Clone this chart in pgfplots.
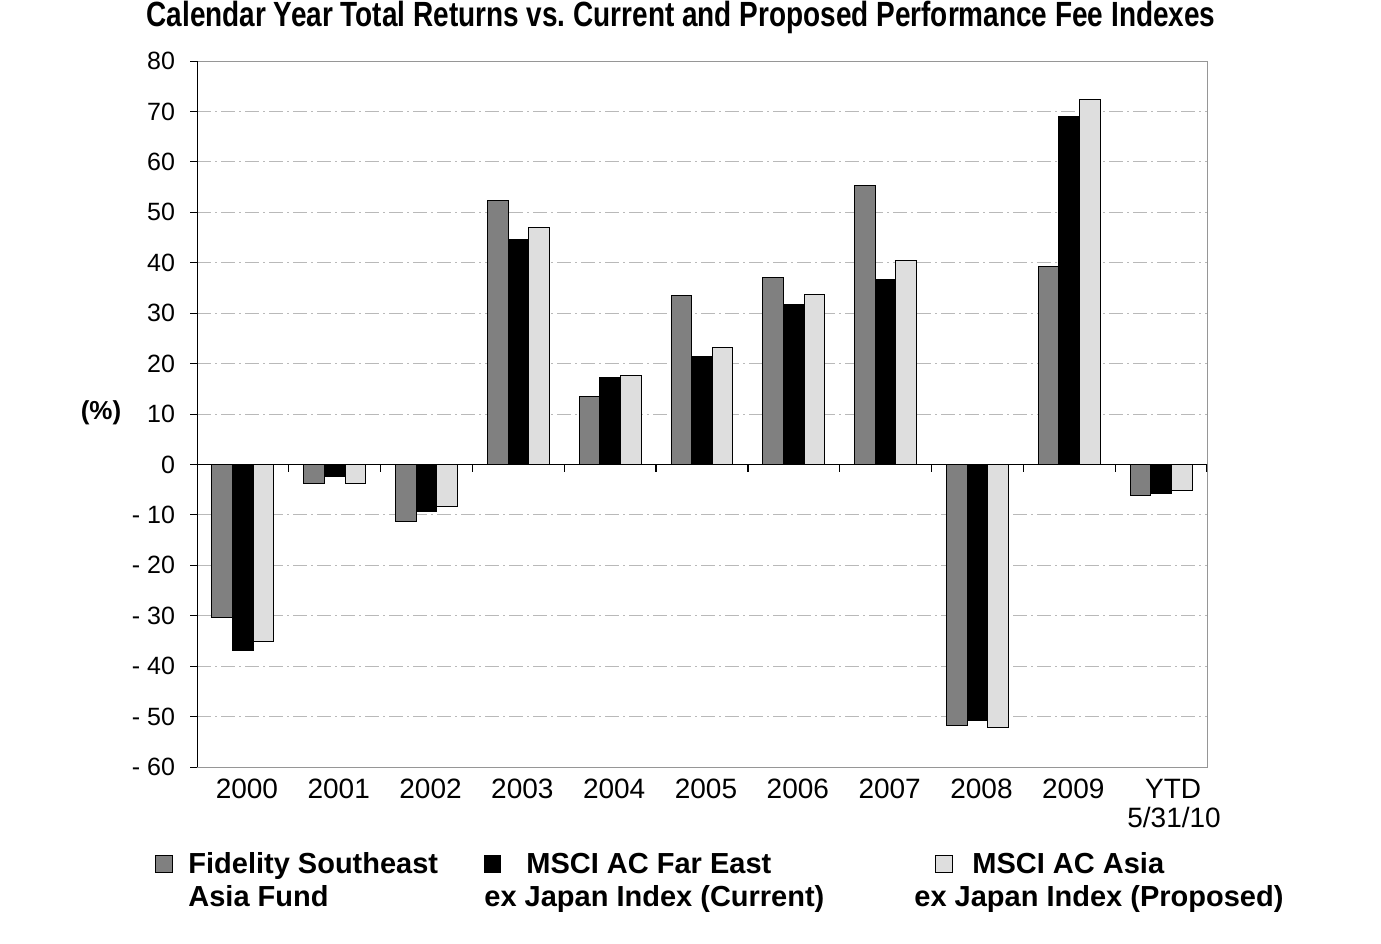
\documentclass[border=0pt]{standalone}
\usepackage{fontspec}
\setmainfont{Liberation Sans}
\usepackage{graphicx}
\usepackage{pgfplots}
\pgfplotsset{compat=1.18}
\definecolor{fsa}{RGB}{128,128,128}
\definecolor{fe}{RGB}{0,0,0}
\definecolor{asia}{RGB}{222,222,222}
\definecolor{gridc}{RGB}{185,185,185}
\definecolor{framec}{RGB}{150,150,150}
\begin{document}
\begin{tikzpicture}[x=1pt,y=1pt]
\useasboundingbox (0,0) rectangle (690.5,471.5);
\begin{axis}[
  at={(98.5pt,88pt)}, anchor=south west,
  width=505pt, height=353pt, scale only axis,
  xmin=-0.5, xmax=10.5, ymin=-60, ymax=80,
  ybar=0pt, bar width=0.225,
  xtick={0,1,2,3,4,5,6,7,8,9,10},
  xticklabels={2000,2001,2002,2003,2004,2005,2006,2007,2008,2009,{\hspace*{8pt}YTD\\\hspace*{9pt}5/31/10}},
  xticklabel style={font=\fontsize{14}{14.5}\selectfont, align=center, anchor=north, xshift=2pt, yshift=1pt},
  major x tick style={draw=none},
  ytick={-60,-50,-40,-30,-20,-10,0,10,20,30,40,50,60,70,80},
  yticklabels={- 60,- 50,- 40,- 30,- 20,- 10,0,10,20,30,40,50,60,70,80},
  yticklabel style={font=\fontsize{12.5}{13}\selectfont, anchor=east, xshift=-4pt},
  ytick pos=left, tick align=outside, major tick length=3.5pt,
  major tick style={black, line width=0.5pt},
  axis line style={draw=framec, line width=0.5pt},
  ymajorgrids, grid style={gridc, line width=0.5pt, dash pattern=on 7pt off 2pt on 1pt off 2pt},
  every axis plot/.append style={draw=black, line width=0.5pt},
]
\addplot[fill=fsa] coordinates {(0,-30.4) (1,-3.7) (2,-11.3) (3,52.3) (4,13.5) (5,33.5) (6,37.1) (7,55.3) (8,-51.7) (9,39.2) (10,-6.2)};
\addplot[fill=fe] coordinates {(0,-36.8) (1,-2.3) (2,-9.4) (3,44.7) (4,17.3) (5,21.5) (6,31.8) (7,36.7) (8,-50.7) (9,69.0) (10,-5.8)};
\addplot[fill=asia] coordinates {(0,-35.1) (1,-3.8) (2,-8.4) (3,47.0) (4,17.7) (5,23.2) (6,33.7) (7,40.4) (8,-52.1) (9,72.3) (10,-5.2)};
\draw[black, line width=0.7pt] (axis cs:-0.5,0) -- (axis cs:10.5,0);
\pgfplotsinvokeforeach{0.5,1.5,2.5,3.5,4.5,5.5,6.5,7.5,8.5,9.5,10.5}{
  \draw[black, line width=0.6pt] (axis cs:#1,0) -- ++(0pt,-4pt);
}
\draw[black, line width=0.7pt] (rel axis cs:0,0) -- (rel axis cs:0,1);
\end{axis}
\node[anchor=center] at (340.5,463) {\resizebox{534.5pt}{\height}{\fontsize{17.5}{20}\selectfont\bfseries Calendar Year Total Returns vs.\ Current and Proposed Performance Fee Indexes}};
\node[anchor=center, font=\fontsize{13}{14}\selectfont\bfseries] at (50.5,265) {(\%)};
\begin{scope}[every node/.style={anchor=base west, inner sep=0pt, font=\fontsize{14.5}{16}\selectfont\bfseries}]
\draw[black, line width=0.5pt, fill=fsa] (77.5,35.5) rectangle (86,44);
\draw[black, line width=0.5pt, fill=fe] (242,35.5) rectangle (250,44);
\draw[black, line width=0.5pt, fill=asia] (467.5,35.5) rectangle (476,44);
\node at (94,35) {Fidelity Southeast};
\node at (94,18.5) {Asia Fund};
\node at (263,35) {MSCI AC Far East};
\node at (242,18.5) {ex Japan Index (Current)};
\node at (486,35) {MSCI AC Asia};
\node at (457,18.5) {ex Japan Index (Proposed)};
\end{scope}
\end{tikzpicture}
\end{document}
